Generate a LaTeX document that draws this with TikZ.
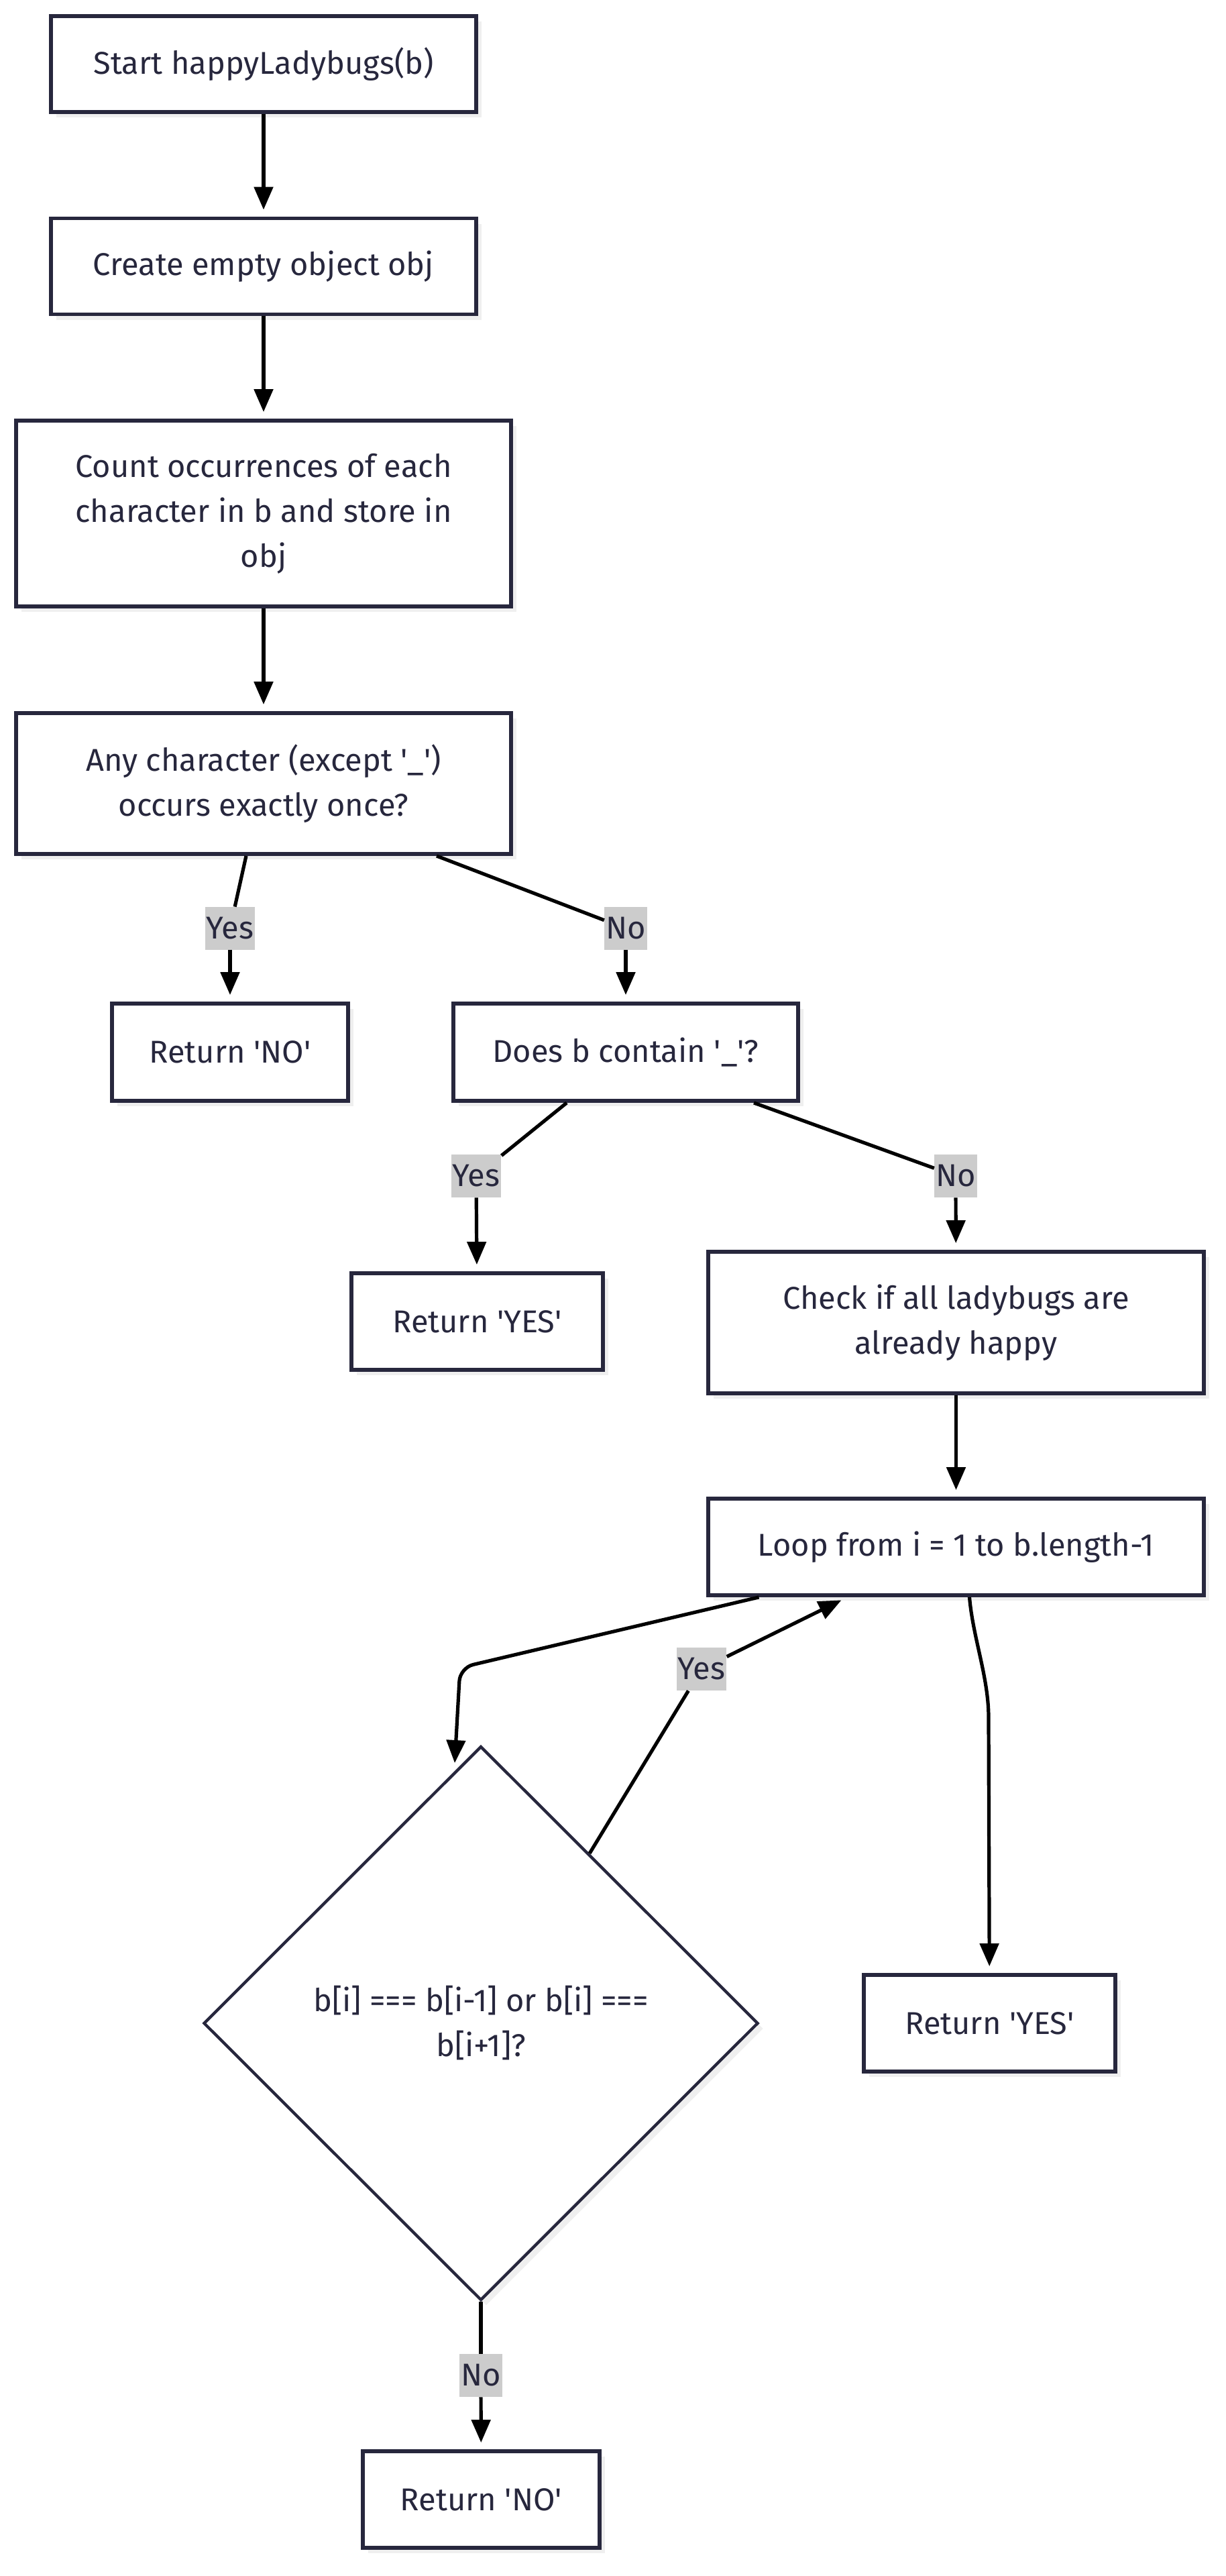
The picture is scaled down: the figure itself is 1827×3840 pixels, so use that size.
\documentclass[tikz,border=0pt]{standalone}
\usepackage{fontspec}
\setmainfont{Fira Sans}
\usetikzlibrary{arrows.meta,positioning,calc,shapes.geometric,shadows}
\definecolor{inkline}{HTML}{27273D}
\definecolor{labelgray}{HTML}{CCCCCC}
\definecolor{shadowgray}{HTML}{EFEFEF}
\newcommand{\sq}{\textquotesingle}
\tikzset{
  stepbox/.style={draw=inkline, line width=2.9pt, fill=white, text=inkline, align=center, inner sep=0pt,
    drop shadow={shadow xshift=4pt, shadow yshift=-4pt, fill=shadowgray, opacity=1}},
  decision/.style={diamond, aspect=1, draw=inkline, line width=2.2pt, fill=white, text=inkline, align=center,
    inner sep=0pt, minimum width=413.5pt, minimum height=413pt,
    drop shadow={shadow xshift=4pt, shadow yshift=-4pt, fill=shadowgray, opacity=1}},
  lbl/.style={fill=labelgray, text=inkline, inner xsep=1pt, inner ysep=0pt, minimum height=32pt},
  flow/.style={line width=2.6pt, black},
  arrow/.style={flow, -{Triangle[length=17pt,width=14pt]}, shorten >=5pt}
}
\begin{document}
\begin{tikzpicture}[x=0.5pt, y=-0.5pt, every node/.style={font=\fontsize{23.5}{33.5}\selectfont}]
  \useasboundingbox (0,0) rectangle (1827,3840);
  \node[stepbox, minimum width=317pt, minimum height=71.5pt] (start) at (393,95.5) {Start happyLadybugs(b)};
  \node[stepbox, minimum width=317pt, minimum height=71.5pt] (create) at (393,397) {Create empty object obj};
  \node[stepbox, minimum width=369pt, minimum height=138.5pt] (count) at (393,765.5) {Count occurrences of each\\character in b and store in\\obj};
  \node[stepbox, minimum width=369pt, minimum height=105pt] (once) at (393,1168) {Any character (except \sq\_\sq)\\occurs exactly once?};
  \node[stepbox, minimum width=176pt, minimum height=72.5pt] (retno) at (343,1568.5) {Return \sq NO\sq};
  \node[stepbox, minimum width=257pt, minimum height=72.5pt] (gap) at (933,1568.5) {Does b contain \sq\_\sq?};
  \node[stepbox, minimum width=187.5pt, minimum height=72pt] (retyes) at (711.5,1970) {Return \sq YES\sq};
  \node[stepbox, minimum width=369.5pt, minimum height=105.5pt] (check) at (1425.5,1971.5) {Check if all ladybugs are\\already happy};
  \node[stepbox, minimum width=369.5pt, minimum height=72pt] (loop) at (1425.5,2306) {Loop from i = 1 to b.length-1};
  \node[decision] (pair) at (717,3016) {b[i] === b[i-1] or b[i] ===\\b[i+1]?};
  \node[stepbox, minimum width=187.5pt, minimum height=72pt] (happy) at (1475.5,3016) {Return \sq YES\sq};
  \node[stepbox, minimum width=176.5pt, minimum height=72pt] (unhappy) at (717.5,3726) {Return \sq NO\sq};

  % edge labels
  \node[lbl] (yesone) at (343,1384) {Yes};
  \node[lbl] (noone) at (933,1384) {No};
  \node[lbl] (yestwo) at (710,1753) {Yes};
  \node[lbl] (notwo) at (1425,1753) {No};
  \node[lbl] (yesloop) at (1046,2488) {Yes};
  \node[lbl] (nopair) at (717,3541) {No};

  \coordinate (loopbend) at (686,2486);
  \coordinate (pairentry) at (678,2628);
  \coordinate (happybend) at (1474,2560);

  \draw[arrow] (start) -- (create);
  \draw[arrow] (create) -- (count);
  \draw[arrow] (count) -- (once);
  \draw[flow] ([xshift=-13pt]once.south) -- (yesone);
  \draw[arrow] (yesone) -- (retno);
  \draw[flow] ([xshift=129pt]once.south) -- (noone);
  \draw[arrow] (noone) -- (gap);
  \draw[flow] ([xshift=-44pt]gap.south) -- (yestwo);
  \draw[arrow] (yestwo) -- (retyes);
  \draw[flow] ([xshift=95.5pt]gap.south) -- (notwo);
  \draw[arrow] (notwo) -- (check);
  \draw[arrow] (check) -- (loop);
  \draw[arrow, shorten >=0pt, rounded corners=10pt] ([xshift=-147pt]loop.south) -- (loopbend) -- (pairentry);
  \draw[flow] ($(pair.north)!0.39!(pair.east)$) -- (yesloop);
  \draw[arrow] (yesloop) -- ([xshift=-81pt]loop.south);
  \draw[arrow] ([xshift=10pt]loop.south) .. controls +(5,60) and +(0,-60) .. (happybend) -- (happy);
  \draw[flow] (pair.south) -- (nopair);
  \draw[arrow] (nopair) -- (unhappy);
\end{tikzpicture}
\end{document}
